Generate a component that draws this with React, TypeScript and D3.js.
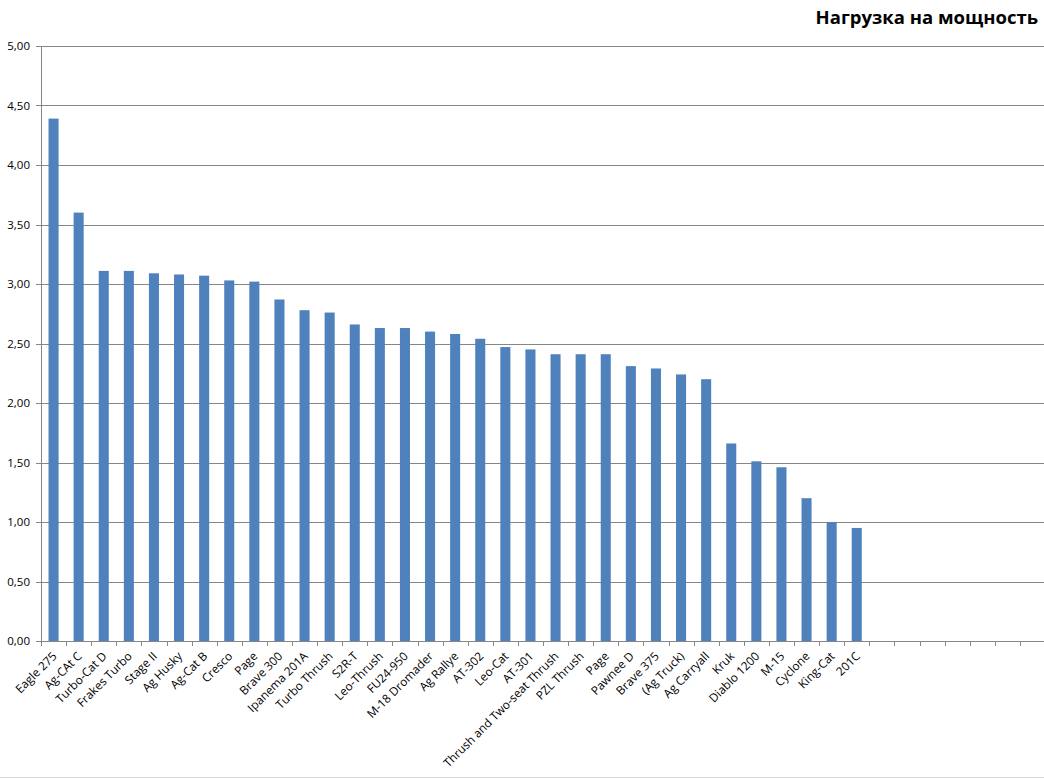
import { useEffect, useRef } from 'react';
import * as d3 from 'd3';

const TITLE = 'Нагрузка на мощность';

const AIRCRAFT = [
  'Eagle 275', 'Ag-CAt C', 'Turbo-Cat D', 'Frakes Turbo', 'Stage II', 'Ag Husky',
  'Ag-Cat B', 'Cresco', 'Page', 'Brave 300', 'Ipanema 201A', 'Turbo Thrush',
  'S2R-T', 'Leo-Thrush', 'FU24-950', 'M-18 Dromader', 'Ag Rallye', 'AT-302',
  'Leo-Cat', 'AT-301', 'Thrush and Two-seat Thrush', 'PZL Thrush', 'Page',
  'Pawnee D', 'Brave 375', '(Ag Truck)', 'Ag Carryall', 'Kruk', 'Diablo 1200',
  'M-15', 'Cyclone', 'King-Cat', '201C',
];

const LOAD = [
  4.39, 3.60, 3.11, 3.11, 3.09, 3.08,
  3.07, 3.03, 3.02, 2.87, 2.78, 2.76,
  2.66, 2.63, 2.63, 2.60, 2.58, 2.54,
  2.47, 2.45, 2.41, 2.41, 2.41,
  2.31, 2.29, 2.24, 2.20, 1.66, 1.51,
  1.46, 1.20, 1.00, 0.95,
];

// empty category slots the source sheet leaves at the right end
const EMPTY_SLOTS = 7;

const Y_TICKS = [0, 0.5, 1, 1.5, 2, 2.5, 3, 3.5, 4, 4.5, 5];

const W = 1044;
const H = 779;
const BAR = '#4f81bd';
const GRID = '#868686';
const FONT = '"Open Sans", "Noto Sans", sans-serif';

export default function App() {
  const svgRef = useRef<SVGSVGElement>(null);

  useEffect(() => {
    if (!svgRef.current) return;
    const svg = d3.select(svgRef.current);
    svg.selectAll('*').remove();

    const left = 41, right = 1045, top = 46, bottom = 641;
    const slots = d3.range(AIRCRAFT.length + EMPTY_SLOTS);

    const x = d3.scaleBand<number>()
      .domain(slots)
      .range([left, right])
      .paddingInner(0.6)
      .paddingOuter(0.3);
    const step = x.step();

    const y = d3.scaleLinear().domain([0, 5]).range([bottom, top]);
    const fmt = (v: number) => d3.format('.2f')(v).replace('.', ',');

    // chart border (only the bottom edge is inside the picture)
    svg.append('rect')
      .attr('x', -20).attr('y', -20).attr('width', W + 40).attr('height', 797.5)
      .attr('rx', 6).attr('fill', 'none').attr('stroke', '#d9d9d9');

    // ── Grid ───────────────────────────────
    svg.append('g').selectAll('line').data(Y_TICKS.filter(t => t > 0)).join('line')
      .attr('x1', left).attr('x2', right)
      .attr('y1', d => Math.round(y(d)) + 0.5).attr('y2', d => Math.round(y(d)) + 0.5)
      .attr('stroke', GRID).attr('stroke-width', 1);

    // ── Bars ───────────────────────────────
    svg.append('g').selectAll('rect').data(LOAD).join('rect')
      .attr('x', (_, i) => x(i)!)
      .attr('width', x.bandwidth())
      .attr('y', d => y(d))
      .attr('height', d => bottom - y(d))
      .attr('fill', BAR);

    // ── Y axis ─────────────────────────────
    const ya = svg.append('g');
    ya.append('line').attr('x1', left + 0.5).attr('x2', left + 0.5)
      .attr('y1', top).attr('y2', bottom).attr('stroke', GRID);
    ya.selectAll('line.t').data(Y_TICKS).join('line').attr('class', 't')
      .attr('x1', left - 5).attr('x2', left)
      .attr('y1', d => Math.round(y(d)) + 0.5).attr('y2', d => Math.round(y(d)) + 0.5)
      .attr('stroke', GRID);
    ya.selectAll('text').data(Y_TICKS).join('text')
      .attr('x', 30).attr('y', d => y(d)).attr('dy', '0.35em')
      .attr('text-anchor', 'end').attr('font-family', FONT).attr('font-size', 11.5)
      .attr('fill', '#000').text(d => fmt(d));

    // ── X axis ─────────────────────────────
    const xa = svg.append('g');
    xa.append('line').attr('x1', left).attr('x2', right)
      .attr('y1', bottom + 0.5).attr('y2', bottom + 0.5).attr('stroke', GRID);
    const bounds = d3.range(slots.length + 1).map(k => left + k * step);
    xa.selectAll('line.t').data(bounds).join('line').attr('class', 't')
      .attr('x1', d => Math.round(d) + 0.5).attr('x2', d => Math.round(d) + 0.5)
      .attr('y1', bottom).attr('y2', bottom + 5).attr('stroke', GRID);
    xa.selectAll('text').data(AIRCRAFT).join('text')
      .attr('transform', (_, i) => `translate(${x(i)! + x.bandwidth() / 2 + 1},${bottom + 13}) rotate(-45)`)
      .attr('text-anchor', 'end').attr('dy', '0.35em')
      .attr('font-family', FONT).attr('font-size', 11.8).attr('fill', '#000')
      .text(d => d);

    // ── Title ──────────────────────────────
    svg.append('text')
      .attr('x', 1038).attr('y', 24)
      .attr('text-anchor', 'end').attr('font-family', FONT)
      .attr('font-weight', 'bold').attr('font-size', 18.5).attr('fill', '#000')
      .text(TITLE);
  }, []);

  return (
    <div style={{ position: 'absolute', left: 0, top: 0, width: W, height: H, background: '#fff' }}>
      <svg ref={svgRef} width={W} height={H} style={{ display: 'block' }} />
    </div>
  );
}
